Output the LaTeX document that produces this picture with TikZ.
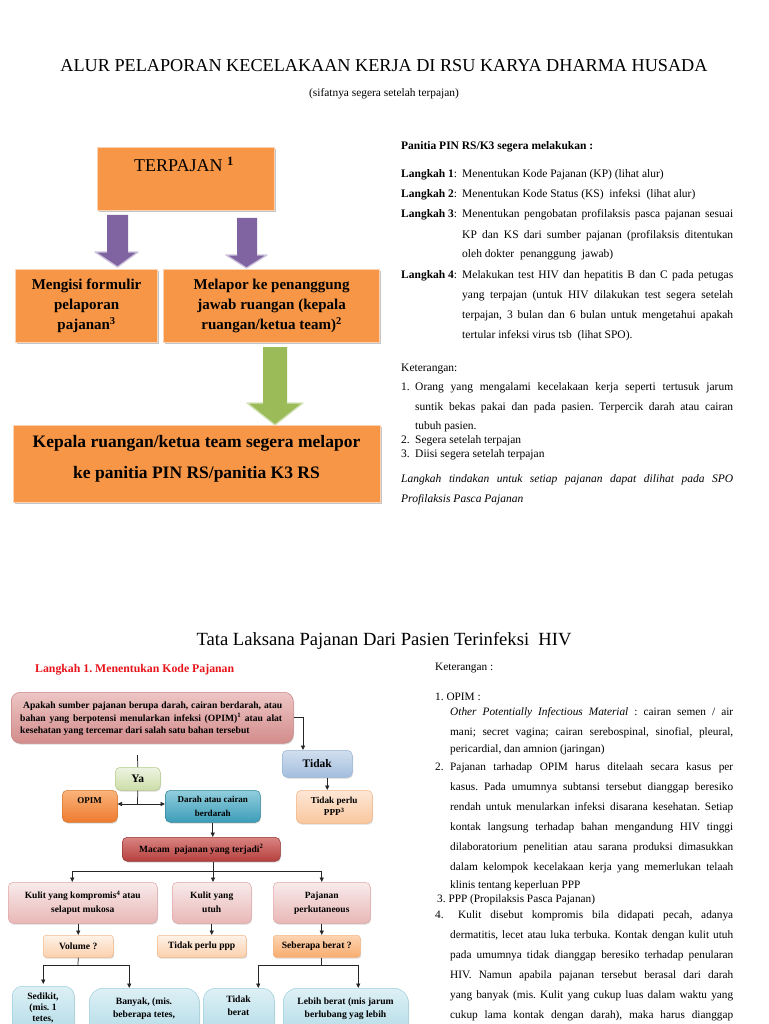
\documentclass[tikz,border=0pt]{standalone}
\usepackage{fontspec}
\setmainfont{Liberation Serif}
\usetikzlibrary{arrows.meta,shadows,calc}
\frenchspacing
\newcommand{\fsz}[2]{\fontsize{#1}{#2}\selectfont}
\newcounter{tcnt}
\newcommand{\Ln}[3]{\stepcounter{tcnt}\node (ln\arabic{tcnt}) at (#1,#2) {#3};}
\newcommand{\Cn}[3]{\stepcounter{tcnt}\node[anchor=base] (ln\arabic{tcnt}) at (#1,#2) {#3};}
\newcommand{\Jn}[4]{\stepcounter{tcnt}\node (ln\arabic{tcnt}) at (#1,#2) {\makebox[#3pt][s]{#4}};}
\definecolor{orF}{HTML}{F79646}
\definecolor{orL}{HTML}{FAD3B4}
\definecolor{puA}{HTML}{8064A2}
\definecolor{puL}{HTML}{CDC2DC}
\definecolor{grA}{HTML}{9BBB59}
\definecolor{grL}{HTML}{D3E2B6}
\definecolor{redA}{HTML}{E8141B}
\definecolor{qT}{HTML}{EDC6C5}
\definecolor{qB}{HTML}{D28C8B}
\definecolor{qD}{HTML}{C98584}
\definecolor{tiT}{HTML}{D2DFEF}
\definecolor{tiB}{HTML}{A3BEDE}
\definecolor{tiD}{HTML}{95B3D7}
\definecolor{peT}{HTML}{FDE7D6}
\definecolor{peB}{HTML}{FAC79E}
\definecolor{peD}{HTML}{F4B887}
\definecolor{yaT}{HTML}{EEF3E2}
\definecolor{yaB}{HTML}{CCDDA8}
\definecolor{yaD}{HTML}{B5CB88}
\definecolor{opT}{HTML}{FAB47C}
\definecolor{opB}{HTML}{EE7B2F}
\definecolor{opD}{HTML}{D8772F}
\definecolor{daT}{HTML}{92CEDD}
\definecolor{daB}{HTML}{3C9DB8}
\definecolor{daD}{HTML}{31859C}
\definecolor{maT}{HTML}{D98482}
\definecolor{maB}{HTML}{B5403D}
\definecolor{maD}{HTML}{943634}
\definecolor{kuT}{HTML}{F9EBEB}
\definecolor{kuB}{HTML}{E8B7B6}
\definecolor{kuD}{HTML}{E0A7A6}
\definecolor{voT}{HTML}{FEF2E8}
\definecolor{voB}{HTML}{FBD0AC}
\definecolor{seT}{HTML}{FCD4B2}
\definecolor{seB}{HTML}{F8AC6E}
\definecolor{buT}{HTML}{DDF0F5}
\definecolor{buB}{HTML}{A8D6E3}
\definecolor{buD}{HTML}{9CCFDD}
\begin{document}
\begin{tikzpicture}[x=1pt,y=-1pt,
  topbox/.style={draw=orL, line width=1.2pt, fill=orF, anchor=north west, inner sep=0pt,
     drop shadow={shadow xshift=1.8pt,shadow yshift=-1.8pt,opacity=0.45}},
  fb/.style={rounded corners=5pt, anchor=north west, inner sep=1pt, align=center,
     line width=0.5pt, font=\fsz{9.6}{13}\bfseries,
     drop shadow={shadow xshift=0.8pt,shadow yshift=-1.3pt,opacity=0.3}},
  cline/.style={draw=black!85, line width=0.75pt},
  arr/.style={cline, -{Triangle[length=4.5pt,width=4.2pt]}}]
\useasboundingbox (0,0) rectangle (768,1024);
\fill[white] (0,0) rectangle (768,1024);
\clip (0,0) rectangle (768,1024);

% ---------- titles ----------
\node[anchor=base, inner sep=0pt, font=\fsz{18.2}{20}] (title) at (384,72)
  {ALUR PELAPORAN KECELAKAAN KERJA DI RSU KARYA DHARMA HUSADA};
\node[anchor=base, inner sep=0pt, font=\fsz{11.4}{13}] (subtitle) at (384,97)
  {(sifatnya segera setelah terpajan)};

% ---------- top flow ----------
\node[topbox, minimum width=177pt, minimum height=63pt] (terp) at (97,147) {};
\node[anchor=base, inner sep=0pt, font=\fsz{18}{20}] (terpt) at (184,172)
  {TERPAJAN \textsuperscript{\textbf{1}}};
\node[topbox, minimum width=142pt, minimum height=73pt, align=center,
      font=\fsz{15}{20}\bfseries] (mengisi) at (15,269)
  {Mengisi formulir\\pelaporan\\pajanan\textsuperscript{3}};
\node[topbox, minimum width=216pt, minimum height=73pt, align=center,
      font=\fsz{15}{20}\bfseries] (melapor) at (163,269)
  {Melapor ke penanggung\\jawab ruangan (kepala\\ruangan/ketua team)\textsuperscript{2}};
\node[topbox, minimum width=367pt, minimum height=77pt] (kepala) at (13,425) {};
\node[align=center, inner sep=0pt, font=\fsz{17.5}{31}\bfseries] (kepalat) at (196.5,459)
  {Kepala ruangan/ketua team segera melapor\\ke panitia PIN RS/panitia K3 RS};

% block arrows
\fill[puA] (107,215) -- (128,215) -- (128,252) -- (138,252) -- (117.5,267) -- (95,252) -- (107,252) -- cycle;
\draw[puL, line width=1.3pt, line join=round] (128,252) -- (138,252) -- (117.5,267) -- (95,252) -- (107,252);
\fill[puA] (237,218) -- (257,218) -- (257,255) -- (267,255) -- (246.5,268) -- (226,255) -- (237,255) -- cycle;
\draw[puL, line width=1.3pt, line join=round] (257,255) -- (267,255) -- (246.5,268) -- (226,255) -- (237,255);
\fill[grA] (263,347) -- (287,347) -- (287,403) -- (303,403) -- (275,425) -- (247,403) -- (263,403) -- cycle;
\draw[grL, line width=1.3pt, line join=round] (287,403) -- (303,403) -- (275,425) -- (247,403) -- (263,403);

% ---------- top right text ----------
\begin{scope}[every node/.style={anchor=base west, inner sep=0pt, font=\fsz{11.5}{13}}]
\Ln{401}{150}{\textbf{Panitia PIN RS/K3 segera melakukan :}}
\Ln{401}{178}{\textbf{Langkah 1}:}
\Ln{462}{178}{Menentukan Kode Pajanan (KP) (lihat alur)}
\Ln{401}{198}{\textbf{Langkah 2}:}
\Ln{462}{198}{Menentukan Kode Status (KS) \ infeksi \ (lihat alur)}
\Ln{401}{218}{\textbf{Langkah 3}:}
\Jn{462}{218}{271}{Menentukan pengobatan profilaksis pasca pajanan sesuai}
\Jn{462}{238}{271}{KP dan KS dari sumber pajanan (profilaksis ditentukan}
\Ln{462}{258}{oleh dokter \ penanggung \ jawab)}
\Ln{401}{278}{\textbf{Langkah 4}:}
\Jn{462}{278}{271}{Melakukan test HIV dan hepatitis B dan C pada petugas}
\Jn{462}{298}{271}{yang terpajan (untuk HIV dilakukan test segera setelah}
\Jn{462}{318}{271}{terpajan, 3 bulan dan 6 bulan untuk mengetahui apakah}
\Ln{462}{338}{tertular infeksi virus tsb \ (lihat SPO).}
\Ln{401}{371}{Keterangan:}
\Ln{401}{390}{1.}
\Jn{415}{390}{318}{Orang yang mengalami kecelakaan kerja seperti tertusuk jarum}
\Jn{415}{410}{318}{suntik bekas pakai dan pada pasien. Terpercik darah atau cairan}
\Ln{415}{429}{tubuh pasien.}
\Ln{401}{443}{2.}
\Ln{415}{443}{Segera setelah terpajan}
\Ln{401}{457}{3.}
\Ln{415}{457}{Diisi segera setelah terpajan}
\Jn{401}{482}{332}{\itshape Langkah tindakan untuk setiap pajanan dapat dilihat pada SPO}
\Ln{401}{502}{\itshape Profilaksis Pasca Pajanan}
\end{scope}

% ---------- second part ----------
\node[anchor=base, inner sep=0pt, font=\fsz{18.6}{20}] (title2) at (384,645)
  {Tata Laksana Pajanan Dari Pasien Terinfeksi \ HIV};
\node[anchor=base west, inner sep=0pt, font=\fsz{11.8}{13}\bfseries, text=redA] (step1) at (35,672)
  {Langkah 1. Menentukan Kode Pajanan};

% flow boxes
\node[fb, minimum width=282pt, minimum height=51pt, rounded corners=9pt,
      top color=qT, bottom color=qB, draw=qD] (q) at (11,692) {};
\node[fb, minimum width=70pt, minimum height=27pt, font=\fsz{11.5}{13}\bfseries,
      top color=tiT, bottom color=tiB, draw=tiD] (tid) at (282,750) {Tidak};
\node[fb, minimum width=76pt, minimum height=33pt, font=\fsz{9.2}{12}\bfseries,
      top color=peT, bottom color=peB, draw=peD] (tpp) at (296,790)
      {Tidak perlu\\PPP\textsuperscript{3}};
\node[fb, minimum width=45pt, minimum height=23pt, font=\fsz{11.5}{13}\bfseries,
      top color=yaT, bottom color=yaB, draw=yaD] (ya) at (115,767) {Ya};
\node[fb, minimum width=55pt, minimum height=32pt,
      top color=opT, bottom color=opB, draw=opD] (opim) at (62,790) {};
\node[fb, minimum width=95pt, minimum height=32pt, font=\fsz{9}{14}\bfseries,
      top color=daT, bottom color=daB, draw=daD] (darah) at (165,790)
      {Darah atau cairan\\berdarah};
\node[fb, minimum width=158pt, minimum height=24pt, font=\fsz{9.5}{12}\bfseries,
      top color=maT, bottom color=maB, draw=maD] (macam) at (122,837)
      {Macam \ pajanan yang terjadi\textsuperscript{2}};
\node[fb, minimum width=149pt, minimum height=41pt, font=\fsz{9.5}{14}\bfseries,
      top color=kuT, bottom color=kuB, draw=kuD] (k1) at (8,882)
      {Kulit yang kompromis\textsuperscript{4} atau\\selaput mukosa};
\node[fb, minimum width=79pt, minimum height=41pt, font=\fsz{9.5}{14}\bfseries,
      top color=kuT, bottom color=kuB, draw=kuD] (k2) at (172,882)
      {Kulit yang\\utuh};
\node[fb, minimum width=97pt, minimum height=41pt, font=\fsz{9.5}{14}\bfseries,
      top color=kuT, bottom color=kuB, draw=kuD] (k3) at (273,882)
      {Pajanan\\perkutaneous};
\node[fb, minimum width=70pt, minimum height=22pt, rounded corners=3pt,
      top color=voT, bottom color=voB, draw=peD] (vol) at (43,935) {Volume ?};
\node[fb, minimum width=89pt, minimum height=22pt, rounded corners=3pt,
      top color=voT, bottom color=voB, draw=peD] (tpp2) at (157,935) {Tidak perlu ppp};
\node[fb, minimum width=87pt, minimum height=22pt, rounded corners=3pt,
      top color=seT, bottom color=seB, draw=peD] (seb) at (273,935) {Seberapa berat ?};
\node[fb, minimum width=62pt, minimum height=60pt, rounded corners=10pt,
      top color=buT, bottom color=buB, draw=buD] (b1) at (12,986) {};
\node[fb, minimum width=110pt, minimum height=60pt, rounded corners=14pt,
      top color=buT, bottom color=buB, draw=buD] (b2) at (89,988) {};
\node[fb, minimum width=71pt, minimum height=60pt, rounded corners=12pt,
      top color=buT, bottom color=buB, draw=buD] (b3) at (203,988) {};
\node[fb, minimum width=125pt, minimum height=60pt, rounded corners=14pt,
      top color=buT, bottom color=buB, draw=buD] (b4) at (283,988) {};

% flow texts
\begin{scope}[every node/.style={anchor=base west, inner sep=0pt, font=\fsz{9.6}{10}\bfseries}]
\Jn{23}{708}{259}{Apakah sumber pajanan berupa darah, cairan berdarah, atau}
\Jn{20}{721}{262}{bahan yang berpotensi menularkan infeksi (OPIM)\textsuperscript{1} atau alat}
\Ln{20}{733}{kesehatan yang tercemar dari salah satu bahan tersebut}
\Cn{89.5}{803}{\fsz{9}{10}\bfseries OPIM}
\Cn{43}{999}{Sedikit,}
\Cn{43}{1010}{(mis. 1}
\Cn{43}{1021}{tetes,}
\Cn{144}{1004}{Banyak, (mis.}
\Cn{144}{1017}{beberapa tetes,}
\Cn{238.5}{1002}{Tidak}
\Cn{238.5}{1015}{berat}
\Cn{345.5}{1004}{Lebih berat (mis jarum}
\Cn{345.5}{1017}{berlubang yag lebih}
\end{scope}

% flow connectors
\draw[arr] (q.east) -| ($(tid.north west)+(21,0)$);
\draw[arr] ([xshift=10pt]tid.south) -- ([xshift=10pt]tid.south |- tpp.north);
\coordinate (yaTop) at (137.5,755);
\coordinate (ySplit) at (137.5,804);
\draw[cline] (yaTop) -- (ya.north);
\draw[cline] (ya.south) -- (ySplit);
\draw[arr] (ySplit) -- (ySplit -| opim.east);
\draw[arr] (ySplit) -- (ySplit -| darah.west);
\draw[arr] (darah.south) -- (darah.south |- macam.north);
\coordinate (mSplit) at (213,871);
\draw[cline] (mSplit |- macam.south) -- (mSplit);
\draw[arr] (mSplit) -- (mSplit |- k2.north);
\draw[arr] (mSplit) -| ([xshift=-10.5pt]k1.north);
\draw[arr] (mSplit) -| (k3.north);
\draw[arr] (vol.north |- k1.south) -- (vol.north);
\draw[arr] (k2.south) -- (k2.south |- tpp2.north);
\draw[arr] (k3.south) -- (k3.south |- seb.north);
\coordinate (vSplit) at (78,965);
\draw[cline] (vol.south) -- (vSplit);
\draw[arr] (vSplit) -| ([yshift=2pt]b1.north);
\draw[arr] (vSplit) -| ([xshift=-15pt]b2.north);
\coordinate (sSplit) at (321,965);
\draw[cline] (sSplit |- seb.south) -- (sSplit);
\draw[arr] (sSplit) -| ([xshift=19.5pt]b3.north);
\draw[arr] (sSplit) -| ([xshift=12.5pt]b4.north);

% ---------- bottom right text ----------
\begin{scope}[every node/.style={anchor=base west, inner sep=0pt, font=\fsz{11.3}{13}}]
\Ln{435}{670}{Keterangan :}
\Ln{435}{700}{1. OPIM :}
\Jn{450}{715}{283}{\textit{Other Potentially Infectious Material} : cairan semen / air}
\Jn{450}{735}{283}{mani; secret vagina; cairan serebospinal, sinofial, pleural,}
\Ln{450}{752}{pericardial, dan amnion (jaringan)}
\Ln{435}{770}{2.}
\Jn{450}{770}{283}{Pajanan tarhadap OPIM harus ditelaah secara kasus per}
\Jn{450}{790}{283}{kasus. Pada umumnya subtansi tersebut dianggap beresiko}
\Jn{450}{810}{283}{rendah untuk menularkan infeksi disarana kesehatan. Setiap}
\Jn{450}{830}{283}{kontak langsung terhadap bahan mengandung HIV tinggi}
\Jn{450}{850}{283}{dilaboratorium penelitian atau sarana produksi dimasukkan}
\Jn{450}{870}{283}{dalam kelompok kecelakaan kerja yang memerlukan telaah}
\Ln{450}{888}{klinis tentang keperluan PPP}
\Ln{437}{902}{3. PPP (Propilaksis Pasca Pajanan)}
\Ln{435}{918}{4.}
\Jn{458}{918}{275}{Kulit disebut kompromis bila didapati pecah, adanya}
\Jn{450}{938}{283}{dermatitis, lecet atau luka terbuka. Kontak dengan kulit utuh}
\Jn{450}{958}{283}{pada umumnya tidak dianggap beresiko terhadap penularan}
\Jn{450}{978}{283}{HIV. Namun apabila pajanan tersebut berasal dari darah}
\Jn{450}{998}{283}{yang banyak (mis. Kulit yang cukup luas dalam waktu yang}
\Jn{450}{1018}{283}{cukup lama kontak dengan darah), maka harus dianggap}
\end{scope}
\end{tikzpicture}
\end{document}
